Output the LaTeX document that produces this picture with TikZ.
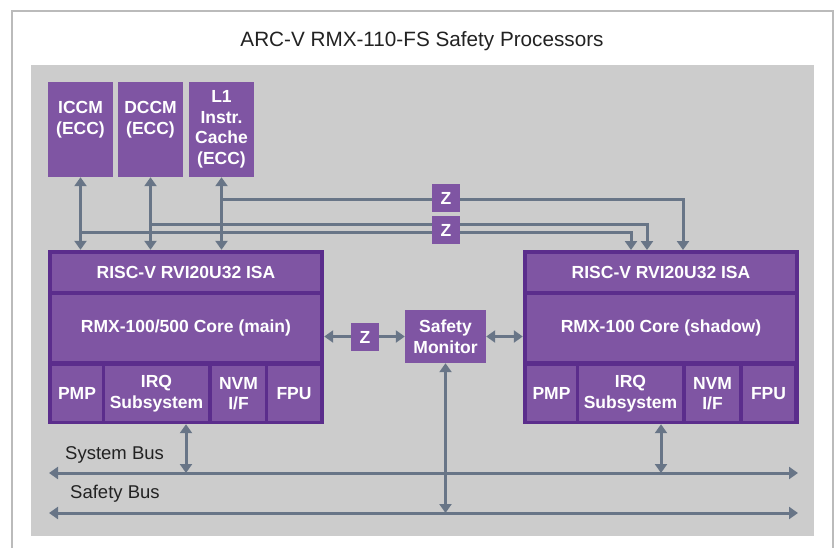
\documentclass[tikz,border=0pt]{standalone}
\usepackage{fontspec}
\setmainfont{Liberation Sans}
\usetikzlibrary{arrows.meta}
\definecolor{cellfill}{HTML}{7F55A3}
\definecolor{coreedge}{HTML}{5B2D8C}
\definecolor{busgray}{HTML}{687587}
\definecolor{bggray}{HTML}{CCCCCC}
\definecolor{framegray}{HTML}{BBBBBB}
\definecolor{labeltext}{HTML}{222222}

\begin{document}
\begin{tikzpicture}[x=1pt,y=-1pt,
    cell/.style={fill=cellfill,text=white,font=\fontsize{17.5}{20.5}\selectfont\bfseries,
                 align=center,inner sep=0pt},
    mem/.style={cell,minimum width=65pt,minimum height=95pt},
    coreframe/.style={fill=coreedge,inner sep=0pt,minimum width=276pt,minimum height=174pt},
    zbox/.style={cell,minimum width=28pt,minimum height=28pt},
    bus/.style={draw=busgray,line width=3pt},
    buslabel/.style={text=labeltext,font=\fontsize{18.5}{22}\selectfont,inner sep=0pt,anchor=west},
    >={Triangle[width=12pt,length=9pt]}]
  \useasboundingbox (0,0) rectangle (837,547);
  \fill[white] (0,0) rectangle (837,547);
  \draw[framegray,line width=2.5pt,fill=white] (12,11) rectangle (833,580);
  \fill[bggray] (31,65) rectangle (814,536);
  \node[text=labeltext,font=\fontsize{20.7}{24}\selectfont] (title) at (422,41)
    {ARC-V RMX-110-FS Safety Processors};

  % memories
  \node[mem] (iccm)  at (80.5,129.5)  {};
  \node[mem] (dccm)  at (150.5,129.5) {};
  \node[mem] (lonec) at (221.5,129.5) {L1\\Instr.\\Cache\\(ECC)};
  \node[cell,fill=none] (iccmtext) at (80.5,119.5)  {ICCM\\(ECC)};
  \node[cell,fill=none] (dccmtext) at (150.5,119.5) {DCCM\\(ECC)};

  % main core
  \node[coreframe] (coreL) at (186,337) {};
  \node[cell,minimum width=268pt,minimum height=37pt] (isaL)  at (186,272.5) {RISC-V RVI20U32 ISA};
  \node[cell,minimum width=268pt,minimum height=66pt] (mainL) at (186,328)   {RMX-100/500 Core (main)};
  \node[cell,minimum width=50pt,minimum height=55pt]  (pmpL)  at (77,393.5)    {PMP};
  \node[cell,minimum width=103pt,minimum height=55pt] (irqL)  at (156.5,393.5) {IRQ\\Subsystem};
  \node[cell,minimum width=53pt,minimum height=55pt]  (nvmL)  at (238.5,393.5) {NVM\\I/F};
  \node[cell,minimum width=52pt,minimum height=55pt]  (fpuL)  at (294,393.5)   {FPU};

  % shadow core
  \node[coreframe] (coreR) at (661,337) {};
  \node[cell,minimum width=268pt,minimum height=37pt] (isaR)  at (661,272.5) {RISC-V RVI20U32 ISA};
  \node[cell,minimum width=268pt,minimum height=66pt] (mainR) at (661,328)   {RMX-100 Core (shadow)};
  \node[cell,minimum width=49pt,minimum height=55pt]  (pmpR)  at (551.5,393.5) {PMP};
  \node[cell,minimum width=103pt,minimum height=55pt] (irqR)  at (630.5,393.5) {IRQ\\Subsystem};
  \node[cell,minimum width=53pt,minimum height=55pt]  (nvmR)  at (712.5,393.5) {NVM\\I/F};
  \node[cell,minimum width=51pt,minimum height=55pt]  (fpuR)  at (768.5,393.5) {FPU};

  \node[cell,minimum width=81pt,minimum height=53pt] (sm) at (445.5,336.5) {Safety\\Monitor};

  % taps to the shadow core
  \coordinate (tapA) at (221.5,199);
  \coordinate (tapB) at (150.5,224);
  \coordinate (tapC) at (80.5,232);
  \coordinate (dropA) at (683,250);
  \coordinate (dropB) at (647,250);
  \coordinate (dropC) at (631,250);
  \coordinate (sysW) at (49,473);
  \coordinate (sysE) at (798,473);
  \coordinate (safW) at (49,513);
  \coordinate (safE) at (798,513);

  \draw[bus,<->] (iccm.south)  -- (iccm.south |- coreL.north);
  \draw[bus,<->] (dccm.south)  -- (dccm.south |- coreL.north);
  \draw[bus,<->] (lonec.south) -- (lonec.south |- coreL.north);
  \draw[bus,->] (tapA) -| (dropA);
  \draw[bus,->] (tapB) -| (dropB);
  \draw[bus,->] (tapC) -| (dropC);

  \draw[bus,<->] (coreL.east |- sm) -- (sm.west);
  \draw[bus,<->] (sm.east) -- (coreR.west |- sm);

  % buses
  \draw[bus,<->] (sysW) -- (sysE);
  \draw[bus,<->] (safW) -- (safE);
  \draw[bus,<->] (coreL.south) -- (coreL.south |- sysW);
  \draw[bus,<->] (coreR.south) -- (coreR.south |- sysW);
  \draw[bus,<->] (sm.south) -- (sm.south |- safW);
  \node[buslabel] (syslabel) at (65,455) {System Bus};
  \node[buslabel] (saflabel) at (70,494) {Safety Bus};

  % lockstep delays
  \node[zbox] (zone) at (446,198) {Z};
  \node[zbox] (ztwo) at (446,230) {Z};
  \node[zbox] (zmon) at (365,337) {Z};
\end{tikzpicture}
\end{document}
